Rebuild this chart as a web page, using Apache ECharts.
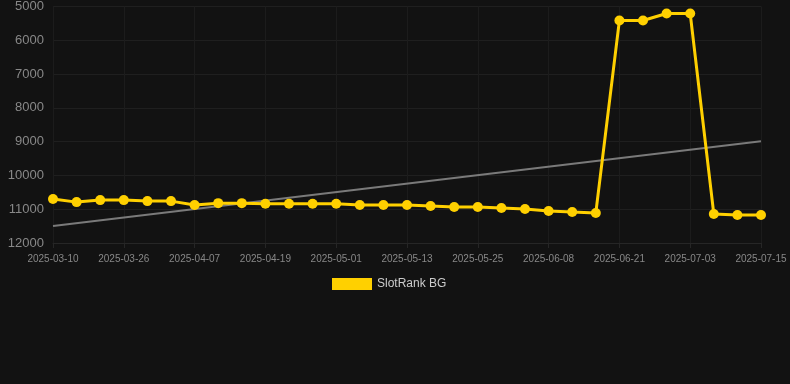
<!DOCTYPE html>
<html>
<head>
<meta charset="utf-8">
<script src="https://cdn.jsdelivr.net/npm/echarts@6/dist/echarts.min.js"></script>
<style>
html,body{margin:0;padding:0;background:#121212;}
#chart{width:790px;height:384px;}
</style>
</head>
<body>
<div id="chart"></div>
<script>
// 日期与排名数据
var dates = ['2025-03-10','2025-03-15','2025-03-20','2025-03-26','2025-03-30','2025-04-03','2025-04-07',
	'2025-04-11','2025-04-15','2025-04-19','2025-04-23','2025-04-27','2025-05-01','2025-05-05','2025-05-09',
	'2025-05-13','2025-05-17','2025-05-21','2025-05-25','2025-05-30','2025-06-03','2025-06-08','2025-06-12',
	'2025-06-17','2025-06-21','2025-06-25','2025-06-29','2025-07-03','2025-07-07','2025-07-11','2025-07-15'];
var ranks = [10700,10790,10730,10730,10760,10760,10877,10820,10820,10840,10840,10840,10840,10877,10877,
	10877,10907,10936,10936,10966,10995,11054,11084,11113,5413,5413,5207,5207,11143,11172,11172];
// 趋势线首尾两点
var trendEnds = [11497, 8987];
var yTicks = [5000,12000,1000];

var trendData = [];
for(var i=0;i<dates.length;i++){ trendData.push(null); }
trendData[0] = trendEnds[0];
trendData[dates.length-1] = trendEnds[1];

var myChart = echarts.init(document.getElementById('chart'));
var option = {
	backgroundColor: '#121212',
	animation: false,
	grid: {left: 53, right: 29, top: 6, bottom: 141},
	legend: {
		top: 273,
		left: 327,
		icon: 'rect',
		itemWidth: 40,
		itemHeight: 12,
		textStyle: {color: '#cccccc', fontSize: 12, fontFamily: 'Liberation Sans, Arial, sans-serif'},
		data: ['SlotRank BG']
	},
	xAxis: {
		type: 'category',
		boundaryGap: false,
		data: dates,
		axisLine: {lineStyle: {color: '#262626'}},
		axisTick: {show: true, interval: 2, lineStyle: {color: '#262626'}},
		axisLabel: {interval: 2, color: '#888888', fontSize: 10, margin: 11, fontFamily: 'Liberation Sans, Arial, sans-serif'},
		splitLine: {show: true, interval: 2, lineStyle: {color: '#1c1c1c'}}
	},
	yAxis: {
		type: 'value',
		inverse: true,
		min: yTicks[0],
		max: yTicks[1],
		interval: yTicks[2],
		axisLine: {show: false},
		axisTick: {show: false},
		axisLabel: {color: '#888888', fontSize: 13, margin: 9, fontFamily: 'Liberation Sans, Arial, sans-serif',
			formatter: function(v){ return String(v); }},
		splitLine: {lineStyle: {color: '#1f1f1f'}}
	},
	series: [
		{
			name: 'SlotRank BG',
			type: 'line',
			data: ranks,
			symbol: 'circle',
			symbolSize: 10,
			color: '#FFD000',
			lineStyle: {width: 3, color: '#FFD000'},
			itemStyle: {color: '#FFD000'},
			z: 3
		},
		{
			name: 'trend',
			type: 'line',
			data: trendData,
			connectNulls: true,
			symbol: 'none',
			lineStyle: {width: 2, color: '#7a7a7a'},
			z: 2
		}
	]
};
myChart.setOption(option);
</script>
</body>
</html>
